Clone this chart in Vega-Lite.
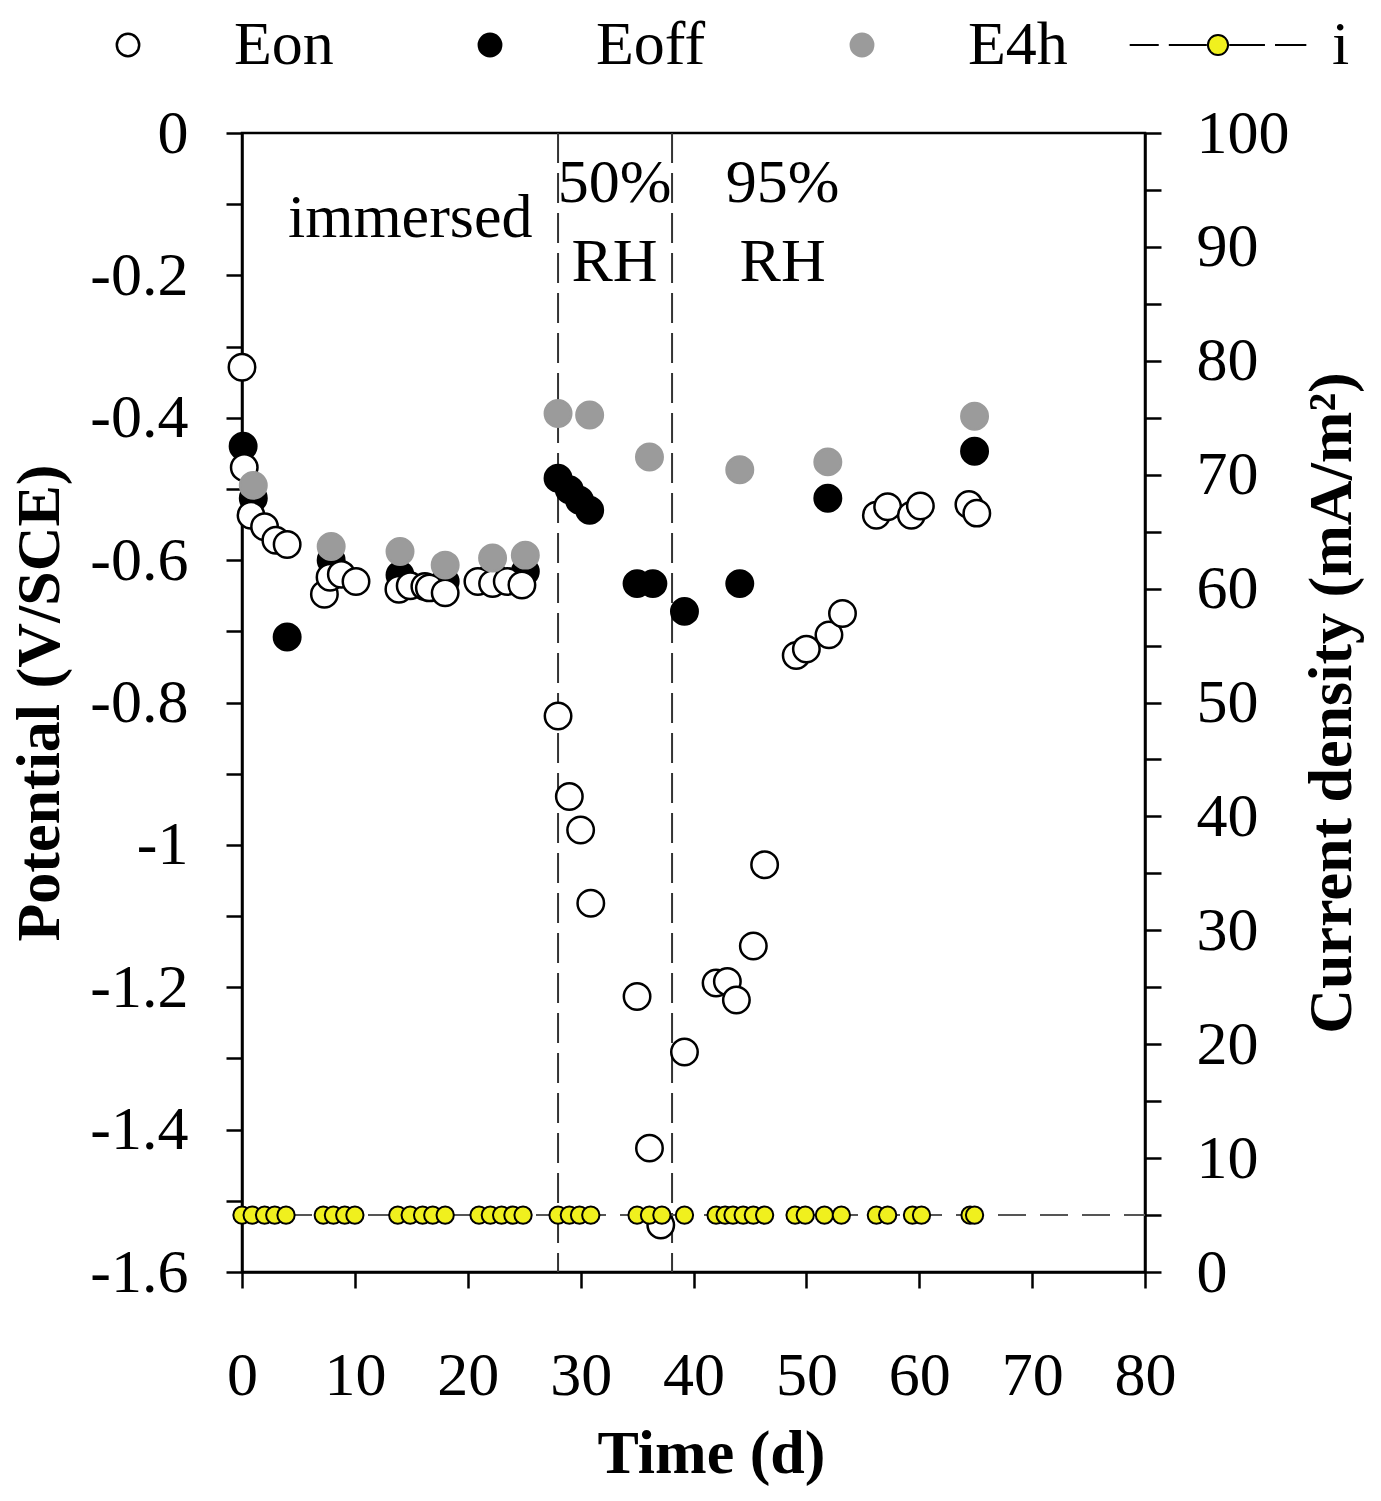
{
  "$schema": "https://vega.github.io/schema/vega-lite/v6.json",
  "width": 903,
  "height": 1139,
  "autosize": {"type": "none"},
  "padding": {"left": 242, "top": 133, "right": 236, "bottom": 229},
  "background": "white",
  "config": {
    "font": "Liberation Serif",
    "view": {"stroke": "black", "strokeWidth": 2.5},
    "axis": {
      "grid": false,
      "domainColor": "black",
      "domainWidth": 2.5,
      "tickColor": "black",
      "tickWidth": 2.5,
      "tickSize": 16,
      "labelFont": "Liberation Serif",
      "labelFontSize": 62,
      "labelColor": "black",
      "titleFont": "Liberation Serif",
      "titleFontSize": 62,
      "titleFontWeight": "bold",
      "titleColor": "black"
    },
    "legend": {
      "labelFont": "Liberation Serif",
      "labelFontSize": 62,
      "labelColor": "black",
      "padding": 0
    }
  },
  "datasets": {
    "potential": [
      {"series": "Eoff", "day": 0.1, "V": -0.440},
      {"series": "Eoff", "day": 1.0, "V": -0.513},
      {"series": "Eoff", "day": 4.0, "V": -0.708},
      {"series": "Eoff", "day": 7.9, "V": -0.600},
      {"series": "Eoff", "day": 14.0, "V": -0.621},
      {"series": "Eoff", "day": 18.0, "V": -0.630},
      {"series": "Eoff", "day": 22.2, "V": -0.621},
      {"series": "Eoff", "day": 25.1, "V": -0.616},
      {"series": "Eoff", "day": 28.0, "V": -0.485},
      {"series": "Eoff", "day": 29.0, "V": -0.501},
      {"series": "Eoff", "day": 29.9, "V": -0.516},
      {"series": "Eoff", "day": 30.8, "V": -0.530},
      {"series": "Eoff", "day": 35.0, "V": -0.633},
      {"series": "Eoff", "day": 36.4, "V": -0.633},
      {"series": "Eoff", "day": 39.2, "V": -0.672},
      {"series": "Eoff", "day": 44.1, "V": -0.633},
      {"series": "Eoff", "day": 51.9, "V": -0.513},
      {"series": "Eoff", "day": 64.9, "V": -0.447},
      {"series": "Eon", "day": 0.0, "V": -0.329},
      {"series": "Eon", "day": 0.2, "V": -0.470},
      {"series": "Eon", "day": 0.8, "V": -0.537},
      {"series": "Eon", "day": 2.0, "V": -0.553},
      {"series": "Eon", "day": 3.0, "V": -0.572},
      {"series": "Eon", "day": 4.0, "V": -0.578},
      {"series": "Eon", "day": 7.3, "V": -0.648},
      {"series": "Eon", "day": 7.8, "V": -0.624},
      {"series": "Eon", "day": 8.8, "V": -0.620},
      {"series": "Eon", "day": 10.1, "V": -0.630},
      {"series": "Eon", "day": 13.9, "V": -0.641},
      {"series": "Eon", "day": 14.9, "V": -0.636},
      {"series": "Eon", "day": 16.2, "V": -0.637},
      {"series": "Eon", "day": 16.6, "V": -0.639},
      {"series": "Eon", "day": 18.0, "V": -0.646},
      {"series": "Eon", "day": 20.9, "V": -0.630},
      {"series": "Eon", "day": 22.2, "V": -0.633},
      {"series": "Eon", "day": 23.5, "V": -0.630},
      {"series": "Eon", "day": 24.8, "V": -0.635},
      {"series": "Eon", "day": 28.0, "V": -0.819},
      {"series": "Eon", "day": 29.0, "V": -0.932},
      {"series": "Eon", "day": 30.0, "V": -0.979},
      {"series": "Eon", "day": 30.9, "V": -1.082},
      {"series": "Eon", "day": 35.0, "V": -1.213},
      {"series": "Eon", "day": 36.1, "V": -1.426},
      {"series": "Eon", "day": 37.1, "V": -1.534},
      {"series": "Eon", "day": 39.2, "V": -1.291},
      {"series": "Eon", "day": 42.0, "V": -1.194},
      {"series": "Eon", "day": 43.0, "V": -1.192},
      {"series": "Eon", "day": 43.8, "V": -1.218},
      {"series": "Eon", "day": 45.3, "V": -1.142},
      {"series": "Eon", "day": 46.3, "V": -1.028},
      {"series": "Eon", "day": 49.1, "V": -0.734},
      {"series": "Eon", "day": 50.0, "V": -0.725},
      {"series": "Eon", "day": 52.0, "V": -0.705},
      {"series": "Eon", "day": 53.2, "V": -0.675},
      {"series": "Eon", "day": 56.2, "V": -0.537},
      {"series": "Eon", "day": 57.2, "V": -0.525},
      {"series": "Eon", "day": 59.3, "V": -0.537},
      {"series": "Eon", "day": 60.1, "V": -0.524},
      {"series": "Eon", "day": 64.4, "V": -0.522},
      {"series": "Eon", "day": 65.1, "V": -0.534},
      {"series": "E4h", "day": 1.0, "V": -0.495},
      {"series": "E4h", "day": 7.9, "V": -0.581},
      {"series": "E4h", "day": 14.0, "V": -0.588},
      {"series": "E4h", "day": 18.0, "V": -0.607},
      {"series": "E4h", "day": 22.2, "V": -0.597},
      {"series": "E4h", "day": 25.1, "V": -0.593},
      {"series": "E4h", "day": 28.0, "V": -0.394},
      {"series": "E4h", "day": 30.8, "V": -0.396},
      {"series": "E4h", "day": 36.1, "V": -0.455},
      {"series": "E4h", "day": 44.1, "V": -0.473},
      {"series": "E4h", "day": 51.9, "V": -0.462},
      {"series": "E4h", "day": 64.9, "V": -0.398}
    ],
    "current": [
      {"series": "i", "day": 0.0, "i": 5}, {"series": "i", "day": 0.9, "i": 5}, {"series": "i", "day": 2.0, "i": 5}, {"series": "i", "day": 2.9, "i": 5}, {"series": "i", "day": 3.9, "i": 5},
      {"series": "i", "day": 7.2, "i": 5}, {"series": "i", "day": 8.1, "i": 5}, {"series": "i", "day": 9.1, "i": 5}, {"series": "i", "day": 10.0, "i": 5},
      {"series": "i", "day": 13.8, "i": 5}, {"series": "i", "day": 14.9, "i": 5}, {"series": "i", "day": 16.0, "i": 5}, {"series": "i", "day": 16.9, "i": 5}, {"series": "i", "day": 18.0, "i": 5},
      {"series": "i", "day": 21.0, "i": 5}, {"series": "i", "day": 22.0, "i": 5}, {"series": "i", "day": 23.0, "i": 5}, {"series": "i", "day": 24.0, "i": 5}, {"series": "i", "day": 24.9, "i": 5},
      {"series": "i", "day": 28.0, "i": 5}, {"series": "i", "day": 29.0, "i": 5}, {"series": "i", "day": 29.9, "i": 5}, {"series": "i", "day": 30.9, "i": 5},
      {"series": "i", "day": 35.0, "i": 5}, {"series": "i", "day": 36.1, "i": 5}, {"series": "i", "day": 37.2, "i": 5},
      {"series": "i", "day": 39.2, "i": 5},
      {"series": "i", "day": 42.0, "i": 5}, {"series": "i", "day": 42.8, "i": 5}, {"series": "i", "day": 43.5, "i": 5}, {"series": "i", "day": 44.4, "i": 5}, {"series": "i", "day": 45.3, "i": 5}, {"series": "i", "day": 46.3, "i": 5},
      {"series": "i", "day": 49.0, "i": 5}, {"series": "i", "day": 49.9, "i": 5},
      {"series": "i", "day": 51.6, "i": 5}, {"series": "i", "day": 53.1, "i": 5},
      {"series": "i", "day": 56.2, "i": 5}, {"series": "i", "day": 57.2, "i": 5},
      {"series": "i", "day": 59.4, "i": 5}, {"series": "i", "day": 60.2, "i": 5},
      {"series": "i", "day": 64.5, "i": 5}, {"series": "i", "day": 64.9, "i": 5}
    ],
    "currentLine": [
      {"day": 0.0, "i": 5}, {"day": 64.9, "i": 5}, {"day": 80.0, "i": 5}
    ],
    "boundaries": [
      {"day": 28.0}, {"day": 38.1}
    ],
    "annotations": [
      {"label": "immersed", "day": 14.9, "V": -0.119},
      {"label": "50%", "day": 33.0, "V": -0.070},
      {"label": "RH", "day": 33.0, "V": -0.181},
      {"label": "95%", "day": 47.9, "V": -0.070},
      {"label": "RH", "day": 47.9, "V": -0.181}
    ]
  },
  "resolve": {"scale": {"y": "independent", "fill": "independent", "stroke": "independent"}},
  "layer": [
    {
      "layer": [
        {
          "data": {"name": "boundaries"},
          "mark": {"type": "rule", "strokeDash": [30, 10], "color": "#333333", "strokeWidth": 2},
          "encoding": {
            "x": {"field": "day", "type": "quantitative", "scale": {"domain": [0, 80], "nice": false}}
          }
        },
        {
          "data": {"name": "annotations"},
          "mark": {"type": "text", "font": "Liberation Serif", "fontSize": 62, "color": "black", "align": "center", "baseline": "middle"},
          "encoding": {
            "x": {"field": "day", "type": "quantitative", "scale": {"domain": [0, 80], "nice": false}},
            "y": {"field": "V", "type": "quantitative", "scale": {"domain": [-1.6, 0], "nice": false}},
            "text": {"field": "label"}
          }
        },
        {
          "data": {"name": "potential"},
          "mark": {"type": "point", "filled": true, "size": 700, "strokeWidth": 2.5, "opacity": 1},
          "encoding": {
            "x": {
              "field": "day", "type": "quantitative", "scale": {"domain": [0, 80], "nice": false},
              "axis": {"values": [0, 10, 20, 30, 40, 50, 60, 70, 80], "format": "d", "labelFlush": false, "labelPadding": 57, "title": "Time (d)", "titlePadding": 17, "titleX": 469}
            },
            "y": {
              "field": "V", "type": "quantitative", "scale": {"domain": [-1.6, 0], "nice": false},
              "axis": {
                "orient": "left",
                "values": [0, -0.1, -0.2, -0.3, -0.4, -0.5, -0.6, -0.7, -0.8, -0.9, -1, -1.1, -1.2, -1.3, -1.4, -1.5, -1.6],
                "labelExpr": "abs(round(datum.value * 10)) % 2 == 0 ? (datum.value == 0 ? '0' : '' + datum.value) : ''",
                "labelPadding": 38,
                "title": "Potential (V/SCE)",
                "titlePadding": 18
              }
            },
            "fill": {
              "field": "series", "type": "nominal",
              "scale": {"domain": ["Eon", "Eoff", "E4h"], "range": ["#ffffff", "#000000", "#9b9b9b"]},
              "legend": {"title": null, "orient": "none", "legendX": -145, "legendY": -119, "direction": "horizontal", "columns": 3, "columnPadding": 125, "symbolSize": 500, "symbolStrokeWidth": 2.5, "labelOffset": 75, "symbolOpacity": 1}
            },
            "stroke": {
              "field": "series", "type": "nominal",
              "scale": {"domain": ["Eon", "Eoff", "E4h"], "range": ["#000000", "#000000", "#9b9b9b"]},
              "legend": {"title": null, "orient": "none", "legendX": -145, "legendY": -119, "direction": "horizontal", "columns": 3, "columnPadding": 125, "symbolSize": 500, "symbolStrokeWidth": 2.5, "labelOffset": 75, "symbolOpacity": 1}
            }
          }
        }
      ]
    },
    {
      "layer": [
        {
          "data": {"name": "currentLine"},
          "mark": {"type": "line", "strokeDash": [28, 14], "color": "#555555", "strokeWidth": 2},
          "encoding": {
            "x": {"field": "day", "type": "quantitative", "scale": {"domain": [0, 80], "nice": false}},
            "y": {"field": "i", "type": "quantitative", "scale": {"domain": [0, 100], "nice": false}}
          }
        },
        {
          "data": {"name": "current"},
          "mark": {"type": "point", "shape": "circle", "filled": true, "size": 300, "strokeWidth": 2, "opacity": 1},
          "encoding": {
            "x": {"field": "day", "type": "quantitative", "scale": {"domain": [0, 80], "nice": false}},
            "y": {
              "field": "i", "type": "quantitative", "scale": {"domain": [0, 100], "nice": false},
              "axis": {
                "orient": "right",
                "values": [0, 5, 10, 15, 20, 25, 30, 35, 40, 45, 50, 55, 60, 65, 70, 75, 80, 85, 90, 95, 100],
                "labelExpr": "datum.value % 10 == 0 ? '' + datum.value : ''",
                "labelPadding": 35,
                "title": "Current density (mA/m²)",
                "titleAngle": 270,
                "titleBaseline": "top",
                "titlePadding": 12
              }
            },
            "fill": {
              "field": "series", "type": "nominal",
              "scale": {"domain": ["i"], "range": ["#f0f01e"]},
              "legend": {"title": null, "orient": "none", "legendX": 945, "legendY": -119, "symbolSize": 500, "symbolStrokeWidth": 2, "symbolOpacity": 1, "labelOffset": 83, "symbolType": "M-7.9,0H-5.3M-4.4,0H-1M1,0H4.2M5.1,0H7.9M-0.9,0A0.9,0.9,0,1,1,0.9,0A0.9,0.9,0,1,1,-0.9,0Z"}
            },
            "stroke": {
              "field": "series", "type": "nominal",
              "scale": {"domain": ["i"], "range": ["#000000"]},
              "legend": {"title": null, "orient": "none", "legendX": 945, "legendY": -119, "symbolSize": 500, "symbolStrokeWidth": 2, "symbolOpacity": 1, "labelOffset": 83, "symbolType": "M-7.9,0H-5.3M-4.4,0H-1M1,0H4.2M5.1,0H7.9M-0.9,0A0.9,0.9,0,1,1,0.9,0A0.9,0.9,0,1,1,-0.9,0Z"}
            }
          }
        }
      ]
    }
  ]
}
